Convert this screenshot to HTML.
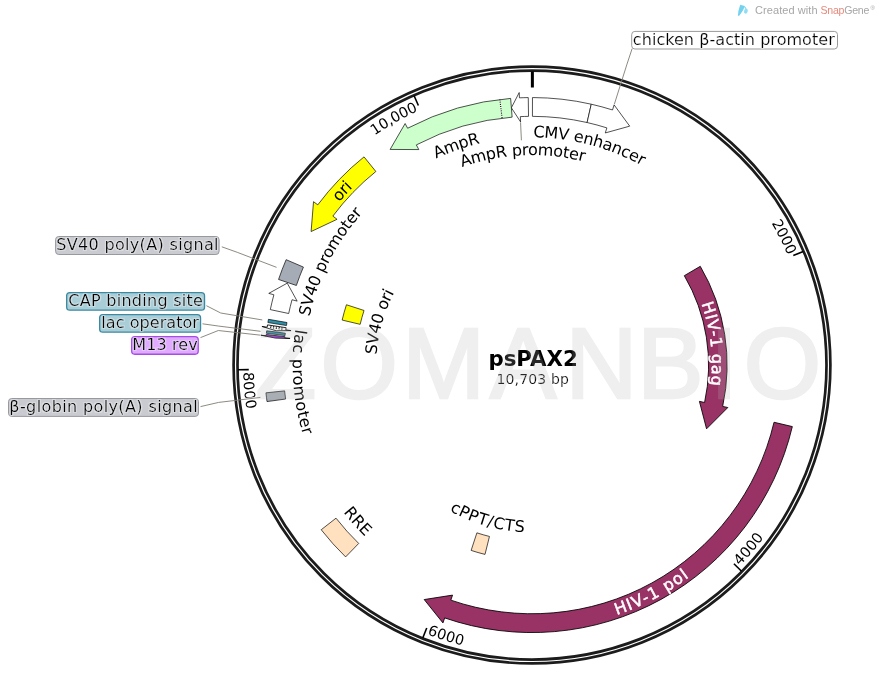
<!DOCTYPE html>
<html><head><meta charset="utf-8"><title>psPAX2</title><style>html,body{margin:0;padding:0;background:#fff}body{width:882px;height:695px;overflow:hidden}svg text{white-space:pre}</style></head><body>
<svg width="882" height="695" viewBox="0 0 882 695" style="display:block"><defs><filter id="halo" x="0" y="0" width="882" height="695" filterUnits="userSpaceOnUse" color-interpolation-filters="sRGB"><feMorphology in="SourceAlpha" operator="dilate" radius="0.9" result="d"/><feGaussianBlur in="d" stdDeviation="0.5" result="b"/><feFlood flood-color="#fff" flood-opacity="0.32"/><feComposite in2="b" operator="in" result="h"/><feMerge><feMergeNode in="h"/><feMergeNode in="SourceGraphic"/></feMerge></filter><filter id="aa" x="0" y="0" width="882" height="695" filterUnits="userSpaceOnUse"><feOffset dx="0" dy="0"/></filter><path id="p1" d="M319.69,267.85 A233.50,233.50 0 0 1 764.75,383.78"/><path id="p2" d="M301.37,401.58 A233.50,233.50 0 0 1 736.22,251.85"/><path id="p3" d="M318.02,337.07 A215.80,215.80 0 0 1 742.64,318.16"/><path id="p4" d="M327.16,522.23 A258.20,258.20 0 0 1 670.73,147.29"/><path id="p5" d="M391.15,551.29 A233.50,233.50 0 0 1 600.66,141.87"/><path id="p6" d="M461.71,510.45 A161.50,161.50 0 0 1 548.32,204.38"/><path id="p7" d="M474.72,138.68 A233.50,233.50 0 0 0 508.40,597.35"/><path id="p8" d="M542.70,179.51 A185.85,185.85 0 0 1 585.41,543.06"/><path id="p9" d="M327.51,522.53 A258.10,258.10 0 0 0 778.02,287.01"/><path id="p10" d="M348.25,220.97 A233.50,233.50 0 0 0 655.39,563.28"/><path id="p11" d="M371.40,348.00 A161.50,161.50 0 0 0 677.08,436.00"/><path id="p12" d="M248.80,381.03 A283.65,283.65 0 0 1 792.66,253.18"/><path id="p13" d="M552.51,647.96 A283.65,283.65 0 0 1 415.97,106.22"/><path id="p14" d="M735.90,562.24 A283.65,283.65 0 0 0 407.84,110.02"/><path id="p15" d="M428.91,629.30 A283.65,283.65 0 0 0 719.26,152.00"/><path id="p16" d="M248.44,372.06 A283.65,283.65 0 0 0 800.86,455.45"/></defs>
<g id="base">
<path d="M520.55,122.32 L521.40,140.30" stroke="#807d74" stroke-width="0.9" fill="none" stroke-linejoin="round"/>
<path d="M532.47,97.55 A267.50,267.50 0 0 1 591.26,104.20 L587.10,122.53 A248.70,248.70 0 0 0 532.43,116.35 Z" fill="#fff" stroke="#000" stroke-opacity="0.68" stroke-width="1" stroke-linejoin="miter" />
<path d="M591.26,104.20 A267.50,267.50 0 0 1 612.53,109.96 L614.12,104.90 L629.69,126.15 L605.27,132.94 L606.87,127.89 A248.70,248.70 0 0 0 587.10,122.53 Z" fill="#fff" stroke="#000" stroke-opacity="0.68" stroke-width="1" stroke-linejoin="miter" />
<path d="M528.27,97.58 A267.50,267.50 0 0 0 519.45,97.84 L519.20,92.55 L511.39,107.77 L520.58,121.92 L520.33,116.62 A248.70,248.70 0 0 1 528.53,116.37 Z" fill="#fff" stroke="#000" stroke-opacity="0.68" stroke-width="1" stroke-linejoin="miter" />
<path d="M510.64,98.40 A267.50,267.50 0 0 0 407.61,128.23 L405.14,123.54 L390.11,149.45 L418.81,149.57 L416.35,144.88 A248.70,248.70 0 0 1 512.14,117.14 Z" fill="#ccffcc" stroke="#000" stroke-opacity="0.68" stroke-width="1" stroke-linejoin="miter" />
<path d="M499.92,99.98 L502.06,117.65" stroke="#fff" stroke-width="1.1" fill="none"/>
<path d="M499.86,99.49 L502.12,118.15" stroke="#000" stroke-width="1.1" stroke-dasharray="1,1.2" fill="none"/>
<path d="M364.02,156.87 A267.50,267.50 0 0 0 317.77,204.85 L313.53,201.68 L311.11,231.54 L337.07,219.29 L332.83,216.11 A248.70,248.70 0 0 1 375.83,171.50 Z" fill="#ffff00" stroke="#000" stroke-opacity="0.68" stroke-width="1" stroke-linejoin="miter" />
<path d="M278.56,279.46 A267.50,267.50 0 0 1 286.13,259.67 L303.41,267.08 A248.70,248.70 0 0 0 296.37,285.48 Z" fill="#a6acb6" stroke="#000" stroke-opacity="0.68" stroke-width="1" stroke-linejoin="miter" />
<path d="M270.31,309.62 A267.50,267.50 0 0 1 273.89,294.78 L268.78,293.39 L287.24,283.15 L297.15,301.11 L292.03,299.72 A248.70,248.70 0 0 0 288.70,313.51 Z" fill="#fff" stroke="#000" stroke-opacity="0.68" stroke-width="1" stroke-linejoin="miter" />
<path d="M342.16,320.07 A195.10,195.10 0 0 1 346.45,304.76 L364.04,310.48 A176.60,176.60 0 0 0 360.16,324.33 Z" fill="#ffff00" stroke="#000" stroke-opacity="0.68" stroke-width="1" stroke-linejoin="miter" />
<path d="M267.90,322.56 A267.50,267.50 0 0 1 268.44,319.30 L286.96,322.52 A248.70,248.70 0 0 0 286.46,325.54 Z" fill="#3090a8" stroke="#000" stroke-opacity="0.68" stroke-width="1" stroke-linejoin="miter" />
<path d="M267.53,324.88 A267.50,267.50 0 0 0 267.19,327.21 L261.94,326.46 L276.18,330.79 L291.05,330.62 L285.80,329.87 A248.70,248.70 0 0 1 286.12,327.71 Z" fill="#fff" stroke="#000" stroke-opacity="0.85" stroke-width="1" stroke-linejoin="miter" />
<path d="M270.37,326.18 L283.03,328.06" stroke="#000" stroke-width="1" stroke-dasharray="1.1,1.7" fill="none"/>
<path d="M270.17,327.56 L282.84,329.38" stroke="#000" stroke-width="1" stroke-dasharray="1.1,1.7" fill="none"/>
<path d="M266.39,333.29 A267.50,267.50 0 0 1 266.70,330.79 L285.35,333.20 A248.70,248.70 0 0 0 285.06,335.52 Z" fill="#3090a8" stroke="#000" stroke-opacity="0.68" stroke-width="1" stroke-linejoin="miter" />
<path d="M266.25,334.53 A267.50,267.50 0 0 0 266.11,335.78 L260.84,335.20 L275.32,338.02 L290.06,338.42 L284.79,337.84 A248.70,248.70 0 0 1 284.92,336.68 Z" fill="#a030e0" stroke="#000" stroke-opacity="0.85" stroke-width="1" stroke-linejoin="miter" />
<path d="M267.01,401.59 A267.50,267.50 0 0 1 265.95,392.83 L284.64,390.87 A248.70,248.70 0 0 0 285.63,399.02 Z" fill="#a6acb6" stroke="#000" stroke-opacity="0.68" stroke-width="1" stroke-linejoin="miter" />
<path d="M345.61,556.92 A267.50,267.50 0 0 1 321.21,529.74 L336.02,518.17 A248.70,248.70 0 0 0 358.71,543.44 Z" fill="#ffe0bf" stroke="#000" stroke-opacity="0.68" stroke-width="1" stroke-linejoin="miter" />
<path d="M485.00,554.40 A195.10,195.10 0 0 1 471.13,550.41 L476.90,532.83 A176.60,176.60 0 0 0 489.46,536.45 Z" fill="#ffe0bf" stroke="#000" stroke-opacity="0.68" stroke-width="1" stroke-linejoin="miter" />
<path d="M700.28,266.32 A195.10,195.10 0 0 1 722.67,406.41 L727.84,407.53 L706.56,428.83 L699.41,401.37 L704.59,402.49 A176.60,176.60 0 0 0 684.32,275.68 Z" fill="#993366" stroke="#000" stroke-opacity="0.85" stroke-width="1" stroke-linejoin="miter" />
<path d="M792.33,426.59 A267.50,267.50 0 0 1 444.68,617.90 L442.95,622.91 L424.19,599.55 L452.55,595.12 L450.82,600.13 A248.70,248.70 0 0 0 774.03,422.26 Z" fill="#993366" stroke="#000" stroke-opacity="0.85" stroke-width="1" stroke-linejoin="miter" />
<circle cx="532.0" cy="365.05" r="298.4" fill="none" stroke="#1c1c1c" stroke-width="2.7"/>
<circle cx="532.0" cy="365.05" r="294.5" fill="none" stroke="#1c1c1c" stroke-width="2.7"/>
<path d="M532.41,71.45 L532.39,87.45" stroke="#000" stroke-width="3"/>
<path d="M803.17,251.46 L793.30,255.59" stroke="#000" stroke-width="1.6"/>
<path d="M741.55,571.27 L733.92,563.76" stroke="#000" stroke-width="1.6"/>
<path d="M422.76,638.00 L426.73,628.07" stroke="#000" stroke-width="1.6"/>
<path d="M238.04,369.75 L248.74,369.58" stroke="#000" stroke-width="1.6"/>
<path d="M414.08,95.73 L418.37,105.53" stroke="#000" stroke-width="1.6"/>
<rect x="631.70" y="31.40" width="205.80" height="17.60" rx="3.2" ry="3.2" fill="#fff" stroke="#999" stroke-width="1.0"/>
<rect x="55.60" y="236.50" width="163.50" height="18.00" rx="3.2" ry="3.2" fill="#c9cbd0" stroke="#97999f" stroke-width="1.0"/>
<rect x="66.65" y="292.65" width="137.90" height="17.50" rx="3.2" ry="3.2" fill="#aaced8" stroke="#3c8aa2" stroke-width="1.3"/>
<rect x="99.65" y="314.65" width="100.90" height="17.50" rx="3.2" ry="3.2" fill="#aaced8" stroke="#3c8aa2" stroke-width="1.3"/>
<rect x="131.65" y="336.65" width="66.60" height="17.60" rx="3.2" ry="3.2" fill="#dfaaff" stroke="#a64de6" stroke-width="1.3"/>
<rect x="8.50" y="398.50" width="190.00" height="17.90" rx="3.2" ry="3.2" fill="#c9cbd0" stroke="#97999f" stroke-width="1.0"/>
</g>
<g id="labels" filter="url(#halo)">
<text font-family="'DejaVu Sans','Liberation Sans',sans-serif" font-size="16" fill="#000" ><textPath href="#p1" startOffset="50%" text-anchor="middle"><tspan dy="5.83">CMV enhancer</tspan></textPath></text>
<text font-family="'DejaVu Sans','Liberation Sans',sans-serif" font-size="16" fill="#000" ><textPath href="#p2" startOffset="50%" text-anchor="middle"><tspan dy="5.83">AmpR</tspan></textPath></text>
<text font-family="'DejaVu Sans','Liberation Sans',sans-serif" font-size="16" fill="#000" ><textPath href="#p3" startOffset="50%" text-anchor="middle"><tspan dy="5.83">AmpR promoter</tspan></textPath></text>
<text font-family="'DejaVu Sans','Liberation Sans',sans-serif" font-size="16" fill="#000" ><textPath href="#p5" startOffset="50%" text-anchor="middle"><tspan dy="5.83">SV40 promoter</tspan></textPath></text>
<text font-family="'DejaVu Sans','Liberation Sans',sans-serif" font-size="16" fill="#000" ><textPath href="#p6" startOffset="50%" text-anchor="middle"><tspan dy="5.83">SV40 ori</tspan></textPath></text>
<text font-family="'DejaVu Sans','Liberation Sans',sans-serif" font-size="16" fill="#000"  textLength="105" lengthAdjust="spacing"><textPath href="#p7" startOffset="50%" text-anchor="middle"><tspan dy="5.83">lac promoter</tspan></textPath></text>
<text font-family="'DejaVu Sans','Liberation Sans',sans-serif" font-size="16" fill="#000" ><textPath href="#p10" startOffset="50%" text-anchor="middle"><tspan dy="5.83">RRE</tspan></textPath></text>
<text font-family="'DejaVu Sans','Liberation Sans',sans-serif" font-size="16" fill="#000"  textLength="76.5" lengthAdjust="spacing"><textPath href="#p11" startOffset="50%" text-anchor="middle"><tspan dy="5.83">cPPT/CTS</tspan></textPath></text>
<text font-family="'DejaVu Sans','Liberation Sans',sans-serif" font-size="14.5" fill="#000" ><textPath href="#p12" startOffset="100%" text-anchor="end"><tspan dy="5.29">2000</tspan></textPath></text>
<text font-family="'DejaVu Sans','Liberation Sans',sans-serif" font-size="14.5" fill="#000" ><textPath href="#p13" startOffset="100%" text-anchor="end"><tspan dy="5.29">10,000</tspan></textPath></text>
<text font-family="'DejaVu Sans','Liberation Sans',sans-serif" font-size="14.5" fill="#000" ><textPath href="#p14" startOffset="0%" text-anchor="start"><tspan dy="5.29">4000</tspan></textPath></text>
<text font-family="'DejaVu Sans','Liberation Sans',sans-serif" font-size="14.5" fill="#000" ><textPath href="#p15" startOffset="0%" text-anchor="start"><tspan dy="5.29">6000</tspan></textPath></text>
<text font-family="'DejaVu Sans','Liberation Sans',sans-serif" font-size="14.5" fill="#000" ><textPath href="#p16" startOffset="0%" text-anchor="start"><tspan dy="5.29">8000</tspan></textPath></text>
<text x="533.1" y="365.7" text-anchor="middle" font-family="'DejaVu Sans',sans-serif" font-weight="bold" font-size="21.3" fill="#000">psPAX2</text>
<text x="532.7" y="383.6" text-anchor="middle" font-family="'DejaVu Sans','Liberation Sans',sans-serif" font-size="14" fill="#000" stroke="#fff" stroke-width="0.2" textLength="72.4" lengthAdjust="spacing">10,703 bp</text>
<text x="733.80" y="44.50" text-anchor="middle" font-family="'DejaVu Sans','Liberation Sans',sans-serif" font-size="16" fill="#000" stroke="#fff" stroke-width="0.2" textLength="201.9" lengthAdjust="spacing">chicken β-actin promoter</text>
<text x="137.35" y="250.00" text-anchor="middle" font-family="'DejaVu Sans','Liberation Sans',sans-serif" font-size="16" fill="#000" stroke="#fff" stroke-width="0.2" textLength="162.3" lengthAdjust="spacing">SV40 poly(A) signal</text>
<text x="135.60" y="305.80" text-anchor="middle" font-family="'DejaVu Sans','Liberation Sans',sans-serif" font-size="16" fill="#000" stroke="#fff" stroke-width="0.2" textLength="134.7" lengthAdjust="spacing">CAP binding site</text>
<text x="150.10" y="327.80" text-anchor="middle" font-family="'DejaVu Sans','Liberation Sans',sans-serif" font-size="16" fill="#000" stroke="#fff" stroke-width="0.2" textLength="97.7" lengthAdjust="spacing">lac operator</text>
<text x="164.95" y="349.90" text-anchor="middle" font-family="'DejaVu Sans','Liberation Sans',sans-serif" font-size="16" fill="#000" stroke="#fff" stroke-width="0.2" textLength="65.4" lengthAdjust="spacing">M13 rev</text>
<text x="103.50" y="411.70" text-anchor="middle" font-family="'DejaVu Sans','Liberation Sans',sans-serif" font-size="16" fill="#000" stroke="#fff" stroke-width="0.2" textLength="188.3" lengthAdjust="spacing">β-globin poly(A) signal</text>
</g>
<g id="top" filter="url(#aa)">
<path d="M614.33,104.24 L619.75,87.07" stroke="#fff" stroke-opacity="0.85" stroke-width="2.6" fill="none"/>
<path d="M614.33,104.24 L627.01,64.09 L632.10,48.70" stroke="#807d74" stroke-width="0.9" fill="none" stroke-linejoin="round"/>
<path d="M276.55,267.35 L259.73,260.92" stroke="#fff" stroke-opacity="0.85" stroke-width="2.6" fill="none"/>
<path d="M276.55,267.35 L237.22,252.31 L221.80,246.80" stroke="#807d74" stroke-width="0.9" fill="none" stroke-linejoin="round"/>
<path d="M262.25,319.94 L244.49,316.97" stroke="#fff" stroke-opacity="0.85" stroke-width="2.6" fill="none"/>
<path d="M262.25,319.94 L220.72,313.00 L206.40,305.70" stroke="#807d74" stroke-width="0.9" fill="none" stroke-linejoin="round"/>
<path d="M260.59,331.30 L242.73,329.08" stroke="#fff" stroke-opacity="0.85" stroke-width="2.6" fill="none"/>
<path d="M260.59,331.30 L218.81,326.10 L202.50,323.80" stroke="#807d74" stroke-width="0.9" fill="none" stroke-linejoin="round"/>
<path d="M260.14,335.13 L242.25,333.16" stroke="#fff" stroke-opacity="0.85" stroke-width="2.6" fill="none"/>
<path d="M260.14,335.13 L218.29,330.52 L200.50,337.60" stroke="#807d74" stroke-width="0.9" fill="none" stroke-linejoin="round"/>
<path d="M260.42,397.43 L242.55,399.56" stroke="#fff" stroke-opacity="0.85" stroke-width="2.6" fill="none"/>
<path d="M260.42,397.43 L218.62,402.42 L200.50,406.60" stroke="#807d74" stroke-width="0.9" fill="none" stroke-linejoin="round"/>
<text font-family="'DejaVu Sans','Liberation Sans',sans-serif" font-size="16" fill="#000" ><textPath href="#p4" startOffset="50%" text-anchor="middle"><tspan dy="5.83">ori</tspan></textPath></text>
<text font-family="'DejaVu Sans','Liberation Sans',sans-serif" font-size="16" fill="#fff" stroke="#fff" stroke-width="0.5" textLength="85" lengthAdjust="spacing"><textPath href="#p8" startOffset="50%" text-anchor="middle"><tspan dy="5.83">HIV-1 gag</tspan></textPath></text>
<text font-family="'DejaVu Sans','Liberation Sans',sans-serif" font-size="16" fill="#fff" stroke="#fff" stroke-width="0.5" textLength="80.5" lengthAdjust="spacing"><textPath href="#p9" startOffset="50%" text-anchor="middle"><tspan dy="5.83">HIV-1 pol</tspan></textPath></text>
<text x="255.60 320.50 402.20 490.10 565.60 637.20 710.30 743.80" y="398.3" font-family="'Liberation Sans',sans-serif" font-size="99.4" fill="#b4b4b4" stroke="#b4b4b4" stroke-width="2.6" stroke-linejoin="miter" opacity="0.215">ZOMANBIO</text>
<path d="M740.2,4.8 L744.9,6.1 L743.2,10 L740.9,13.6 L739,15.9 L737.9,15.5 L738.4,11 Z" fill="#74d2ef"/>
<path d="M744.5,6 Q746.4,7.4 746.6,9.3 L745.4,9.3 Q745.2,7.8 744,7 Z" fill="#8adaf2"/>
<ellipse cx="745.9" cy="11.1" rx="1.8" ry="2.6" transform="rotate(18 745.9 11.1)" fill="#8fdef5"/>
<text x="755" y="14.2" font-family="'Liberation Sans',sans-serif" font-size="11" fill="#a6a6a6" textLength="62.6" lengthAdjust="spacing">Created with</text>
<text x="820.4" y="14.2" font-family="'Liberation Sans',sans-serif" font-size="10.6" fill="#a6a6a6" textLength="49" lengthAdjust="spacing"><tspan fill="#e6897c">Snap</tspan>Gene</text>
<text x="870.4" y="9.6" font-family="'Liberation Sans',sans-serif" font-size="6" fill="#a6a6a6">®</text>
</g>
</svg>
</body></html>
